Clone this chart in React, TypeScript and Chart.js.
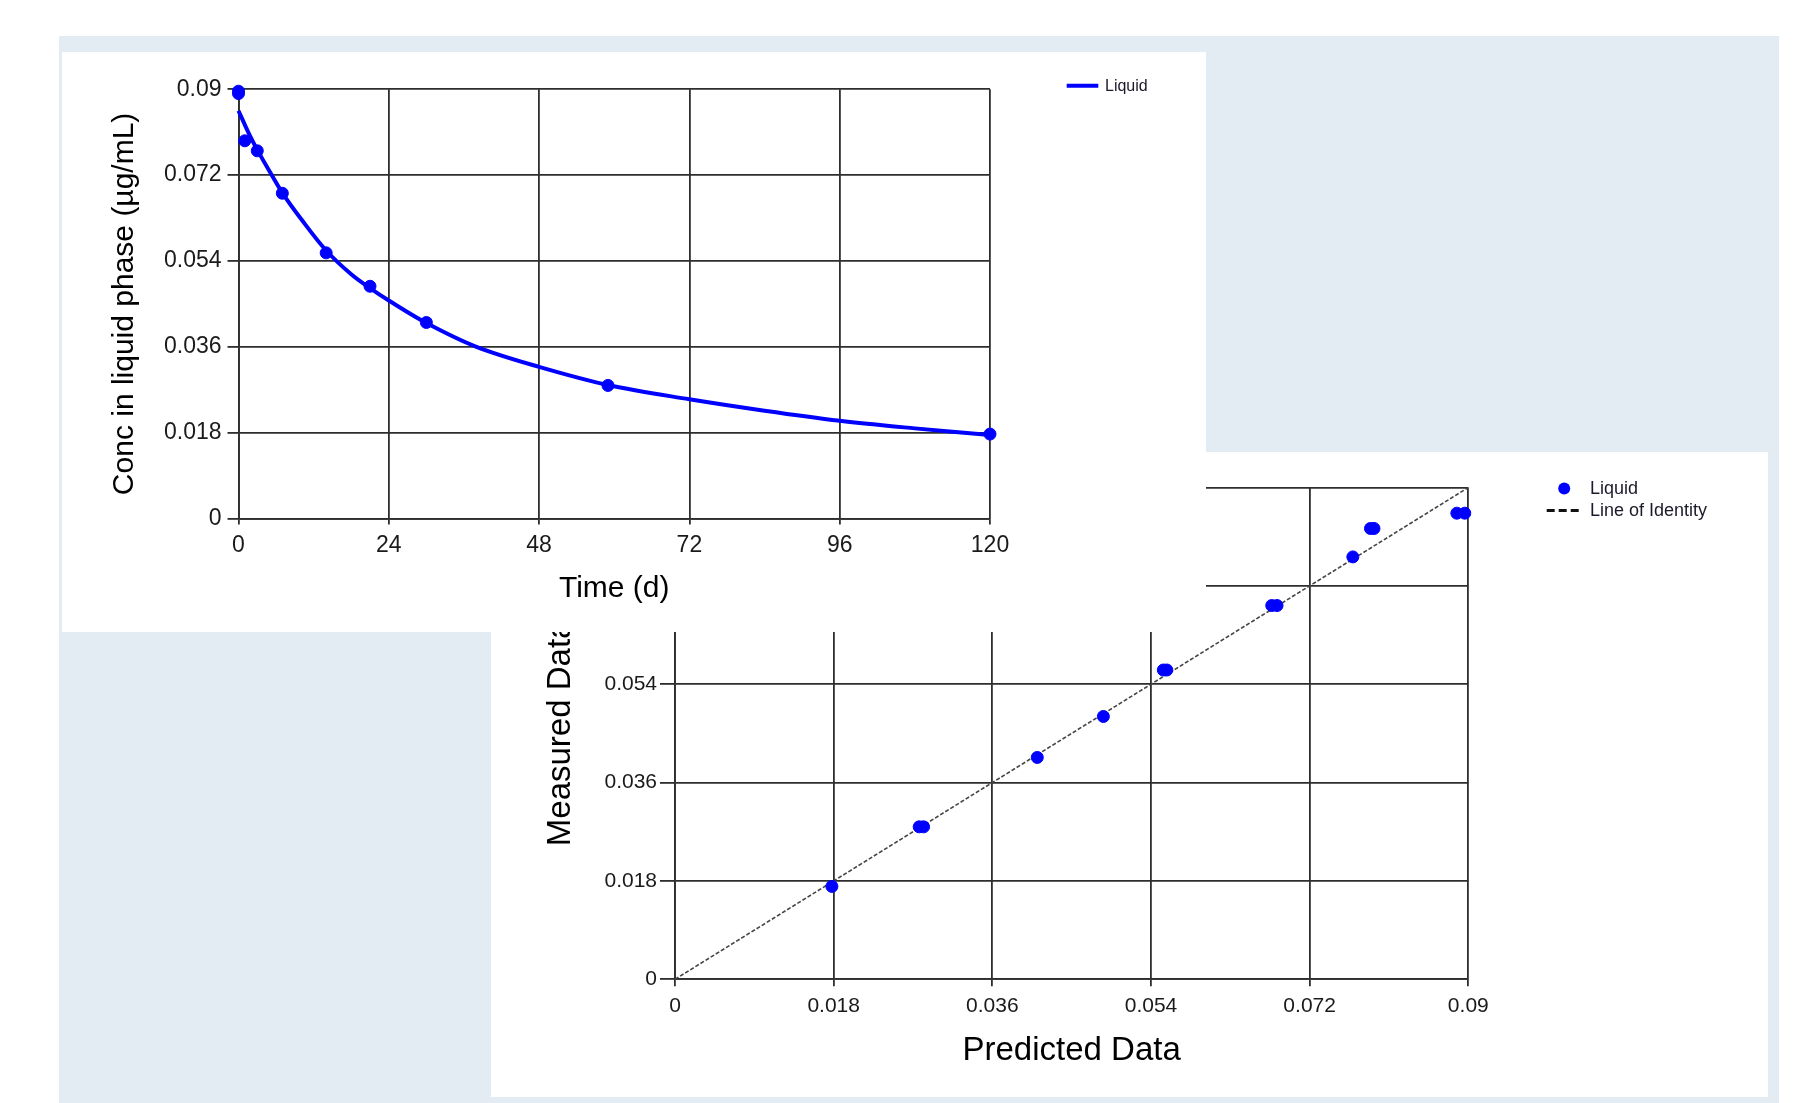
import React, { useEffect, useRef } from "react";
import { Chart, registerables } from "chart.js";
Chart.register(...registerables);

// ---------- Chart 1: concentration vs time ----------
const timeTicks = [0, 24, 48, 72, 96, 120];
const concTicks = [0, 0.018, 0.036, 0.054, 0.072, 0.09];
const measuredTime = [0, 0, 1, 3, 7, 14, 21, 30, 59, 120];
const measuredConc = [0.0896, 0.0891, 0.0792, 0.0771, 0.0682, 0.0557, 0.0487, 0.0411, 0.0279, 0.0177];
const fitTime = [0, 1, 2, 3, 5, 7, 10, 14, 18, 21, 24, 30, 38, 48, 59, 72, 84, 96, 108, 120];
const fitConc = [0.0855, 0.0826, 0.0798, 0.0773, 0.0727, 0.0683, 0.0628, 0.0562, 0.0512, 0.0483, 0.0457, 0.041, 0.036, 0.0318, 0.028, 0.025, 0.0226, 0.0205, 0.0189, 0.0175];

// ---------- Chart 2: measured vs predicted ----------
const predTicks = [0, 0.018, 0.036, 0.054, 0.072, 0.09];
const measTicks = [0, 0.018, 0.036, 0.054, 0.072, 0.09];
const predicted = [0.0178, 0.0277, 0.0282, 0.0411, 0.0486, 0.0554, 0.0558, 0.0677, 0.0683, 0.0769, 0.0789, 0.0793, 0.0887, 0.0896];
const measured = [0.017, 0.0279, 0.0279, 0.0406, 0.0481, 0.0566, 0.0566, 0.0684, 0.0684, 0.0773, 0.0825, 0.0825, 0.0853, 0.0853];
const identityLine = [0, 0.09];

const FONT = "'Liberation Sans', Arial, Helvetica, sans-serif";
const BLUE = "#0000ff";
const GRID = "#2e2e2e";
const fmt = (v: number) => String(Number(Number(v).toFixed(3)));

type LegendItem = { kind: "line" | "point" | "dash"; text: string; color: string };

function makeLegend(cfg: { x: number; y: number; rowGap: number; size: number; symW: number; textX: number; items: LegendItem[] }) {
  return {
    id: "manualLegend",
    afterDraw(chart: any) {
      const ctx = chart.ctx;
      ctx.save();
      ctx.font = `${cfg.size}px ${FONT}`;
      ctx.textBaseline = "middle";
      ctx.textAlign = "left";
      cfg.items.forEach((it, i) => {
        const y = cfg.y + i * cfg.rowGap;
        if (it.kind === "line") {
          ctx.strokeStyle = it.color;
          ctx.lineWidth = 4;
          ctx.setLineDash([]);
          ctx.beginPath();
          ctx.moveTo(cfg.x, y);
          ctx.lineTo(cfg.x + cfg.symW, y);
          ctx.stroke();
        } else if (it.kind === "dash") {
          ctx.strokeStyle = it.color;
          ctx.lineWidth = 3;
          ctx.setLineDash([8, 4]);
          ctx.beginPath();
          ctx.moveTo(cfg.x, y);
          ctx.lineTo(cfg.x + cfg.symW, y);
          ctx.stroke();
          ctx.setLineDash([]);
        } else {
          ctx.fillStyle = it.color;
          ctx.beginPath();
          ctx.arc(cfg.x + cfg.symW / 2, y, 6, 0, Math.PI * 2);
          ctx.fill();
        }
        ctx.fillStyle = "#1a1a2a";
        ctx.fillText(it.text, cfg.textX, y + 1);
      });
      ctx.restore();
    },
  };
}

function TimeChart() {
  const ref = useRef<HTMLCanvasElement>(null);
  useEffect(() => {
    if (!ref.current) return;
    const chart = new Chart(ref.current, {
      type: "scatter",
      data: {
        datasets: [
          {
            label: "Measured",
            data: measuredTime.map((t, i) => ({ x: t, y: measuredConc[i] })),
            backgroundColor: BLUE,
            borderColor: BLUE,
            pointRadius: 6,
            showLine: false,
            clip: false as any,
          },
          {
            type: "line",
            label: "Liquid",
            data: fitTime.map((t, i) => ({ x: t, y: fitConc[i] })),
            borderColor: BLUE,
            borderWidth: 4,
            pointRadius: 0,
            tension: 0.35,
            fill: false,
            clip: false as any,
          } as any,
        ],
      },
      options: {
        animation: false,
        responsive: false,
        layout: { padding: { left: 20, top: 37.3, right: 216, bottom: 0 } },
        plugins: { legend: { display: false }, tooltip: { enabled: false } },
        scales: {
          x: {
            type: "linear",
            min: 0,
            max: 120,
            afterBuildTicks: (a: any) => { a.ticks = timeTicks.map((v) => ({ value: v })); },
            afterFit: (a: any) => { a.height = 113.5; },
            grid: { color: GRID, lineWidth: 1.8, tickLength: 6, drawTicks: true },
            border: { color: GRID, width: 1.8 },
            ticks: { font: { family: FONT, size: 23 }, color: "#1a1a1a", padding: 7, maxRotation: 0, callback: (v: any) => fmt(v) },
            title: { display: true, text: "Time (d)", font: { family: FONT, size: 30 }, color: "#000", padding: { top: 4, bottom: 25 } },
          },
          y: {
            type: "linear",
            min: 0,
            max: 0.09,
            afterBuildTicks: (a: any) => { a.ticks = concTicks.map((v) => ({ value: v })); },
            afterFit: (a: any) => { a.width = 156.5; },
            grid: { color: GRID, lineWidth: 1.8, tickLength: 11, drawTicks: true },
            border: { color: GRID, width: 1.8 },
            ticks: { font: { family: FONT, size: 23 }, color: "#1a1a1a", padding: 6, callback: (v: any) => fmt(v) },
            title: { display: true, text: "Conc in liquid phase (µg/mL)", font: { family: FONT, size: 30 }, color: "#000", padding: { top: 25, bottom: 4 } },
          },
        },
      },
      plugins: [
        makeLegend({ x: 1004.7, y: 33.7, rowGap: 20, size: 16, symW: 31.6, textX: 1043, items: [{ kind: "line", text: "Liquid", color: BLUE }] }),
      ],
    } as any);
    return () => chart.destroy();
  }, []);
  return <canvas ref={ref} width={1144} height={580} style={{ display: "block" }} />;
}

function IdentityChart() {
  const ref = useRef<HTMLCanvasElement>(null);
  useEffect(() => {
    if (!ref.current) return;
    const chart = new Chart(ref.current, {
      type: "scatter",
      data: {
        datasets: [
          {
            label: "Liquid",
            data: predicted.map((p, i) => ({ x: p, y: measured[i] })),
            backgroundColor: BLUE,
            borderColor: BLUE,
            pointRadius: 6,
            showLine: false,
            clip: false as any,
          },
          {
            type: "line",
            label: "Line of Identity",
            data: identityLine.map((v) => ({ x: v, y: v })),
            borderColor: "#444444",
            borderWidth: 1.6,
            borderDash: [4, 2],
            pointRadius: 0,
            fill: false,
          } as any,
        ],
      },
      options: {
        animation: false,
        responsive: false,
        layout: { padding: { left: 20, top: 35.5, right: 299.7, bottom: 0 } },
        plugins: { legend: { display: false }, tooltip: { enabled: false } },
        scales: {
          x: {
            type: "linear",
            min: 0,
            max: 0.09,
            afterBuildTicks: (a: any) => { a.ticks = predTicks.map((v) => ({ value: v })); },
            afterFit: (a: any) => { a.height = 117.7; },
            grid: { color: GRID, lineWidth: 1.8, tickLength: 7, drawTicks: true },
            border: { color: GRID, width: 1.8 },
            ticks: { font: { family: FONT, size: 21 }, color: "#1a1a1a", padding: 7, maxRotation: 0, callback: (v: any) => fmt(v) },
            title: { display: true, text: "Predicted Data", font: { family: FONT, size: 33 }, color: "#000", padding: { top: 4, bottom: 26.7 } },
          },
          y: {
            type: "linear",
            min: 0,
            max: 0.09,
            afterBuildTicks: (a: any) => { a.ticks = measTicks.map((v) => ({ value: v })); },
            afterFit: (a: any) => { a.width = 164; },
            grid: { color: GRID, lineWidth: 1.8, tickLength: 15, drawTicks: true },
            border: { color: GRID, width: 1.8 },
            ticks: { font: { family: FONT, size: 21 }, color: "#1a1a1a", padding: 3, callback: (v: any) => fmt(v) },
            title: { display: true, text: "Measured Data", font: { family: FONT, size: 33 }, color: "#000", padding: { top: 30.2, bottom: 4 } },
          },
        },
      },
      plugins: [
        makeLegend({
          x: 1055.7,
          y: 36.5,
          rowGap: 22,
          size: 18,
          symW: 35,
          textX: 1099,
          items: [
            { kind: "point", text: "Liquid", color: BLUE },
            { kind: "dash", text: "Line of Identity", color: "#111111" },
          ],
        }),
      ],
    } as any);
    return () => chart.destroy();
  }, []);
  return <canvas ref={ref} width={1277} height={645} style={{ display: "block" }} />;
}

export default function App() {
  return (
    <div>
      <div style={{ position: "absolute", left: 59, top: 36, width: 1720, height: 1067, background: "#e4ecf3" }} />
      <div style={{ position: "absolute", left: 491, top: 452, width: 1277, height: 645, background: "#ffffff", zIndex: 1 }}>
        <IdentityChart />
      </div>
      <div style={{ position: "absolute", left: 62, top: 52, width: 1144, height: 580, background: "#ffffff", zIndex: 2 }}>
        <TimeChart />
      </div>
    </div>
  );
}
